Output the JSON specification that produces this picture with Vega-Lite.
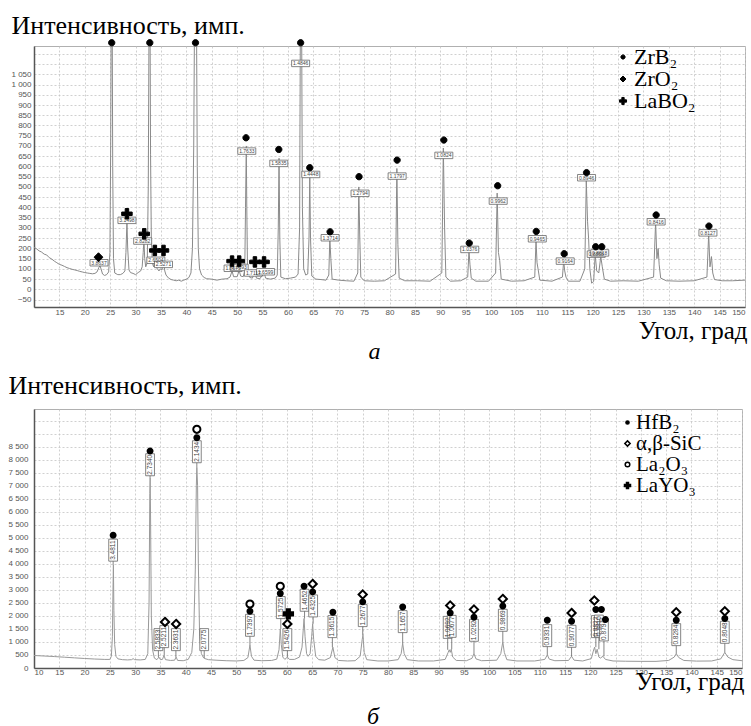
{
"$schema": "https://vega.github.io/schema/vega-lite/v6.json",
"padding": {"left": 7, "top": 11, "right": 2, "bottom": 0},
"background": "white",
"spacing": 6,
"align": "none",
"config": {
  "view": {"stroke": "#b0b0b0", "strokeWidth": 1},
  "axis": {"gridColor": "#c4c4c4", "gridDash": [2, 2], "gridWidth": 0.8, "labelFont": "Liberation Sans", "labelFontSize": 8, "labelColor": "#555", "ticks": false, "domainColor": "#555", "domainWidth": 1.5, "titleFont": "Liberation Serif, Times New Roman, DejaVu Serif, serif", "titleFontWeight": "normal", "titleColor": "black", "labelPadding": 3},
  "title": {"font": "Liberation Serif, Times New Roman, DejaVu Serif, serif", "fontWeight": "normal", "color": "black"},
  "legend": {"labelFont": "Liberation Serif, Times New Roman, DejaVu Serif, serif", "labelColor": "black", "title": null, "orient": "none", "padding": 0, "symbolStrokeColor": "black", "symbolOpacity": 1}
},
"resolve": {"scale": {"x": "independent", "y": "independent", "shape": "independent", "fill": "independent", "stroke": "independent"}, "legend": {"shape": "independent", "fill": "independent", "stroke": "independent"}},
"datasets": {
  "specA": [
    {"t":10,"v":205},{"t":10.5,"v":198},{"t":11,"v":188},{"t":11.5,"v":182},{"t":12,"v":172},{"t":12.5,"v":168},{"t":13,"v":155},{"t":13.5,"v":148},{"t":14,"v":138},{"t":14.5,"v":130},{"t":15,"v":122},{"t":15.5,"v":118},{"t":16,"v":112},{"t":16.5,"v":106},{"t":17,"v":102},{"t":17.5,"v":98},{"t":18,"v":95},{"t":18.5,"v":92},{"t":19,"v":88},{"t":19.5,"v":85},{"t":20,"v":82},{"t":20.5,"v":80},{"t":21,"v":78},{"t":21.5,"v":76},{"t":22,"v":78},{"t":22.4,"v":85},{"t":22.8,"v":108},{"t":23.0,"v":115},{"t":23.2,"v":100},{"t":23.5,"v":75},{"t":23.9,"v":68},{"t":24.3,"v":72},{"t":24.7,"v":85},{"t":24.95,"v":180},{"t":25.1,"v":700},{"t":25.2,"v":1300},{"t":25.4,"v":1300},{"t":25.5,"v":600},{"t":25.65,"v":150},{"t":25.9,"v":80},{"t":26.5,"v":72},{"t":27.0,"v":72},{"t":27.5,"v":78},{"t":27.9,"v":90},{"t":28.1,"v":180},{"t":28.3,"v":330},{"t":28.45,"v":200},{"t":28.7,"v":95},{"t":29.0,"v":82},{"t":29.5,"v":78},{"t":30.0,"v":72},{"t":30.5,"v":82},{"t":31.0,"v":90},{"t":31.3,"v":110},{"t":31.5,"v":180},{"t":31.65,"v":240},{"t":31.8,"v":150},{"t":32.0,"v":110},{"t":32.3,"v":130},{"t":32.5,"v":500},{"t":32.65,"v":1300},{"t":32.85,"v":1300},{"t":32.95,"v":660},{"t":33.1,"v":250},{"t":33.3,"v":130},{"t":33.55,"v":110},{"t":33.8,"v":150},{"t":34.0,"v":110},{"t":34.3,"v":100},{"t":34.6,"v":90},{"t":34.9,"v":100},{"t":35.2,"v":95},{"t":35.5,"v":140},{"t":35.75,"v":90},{"t":36.0,"v":70},{"t":36.5,"v":55},{"t":37,"v":48},{"t":37.5,"v":45},{"t":38,"v":42},{"t":38.5,"v":45},{"t":39,"v":40},{"t":39.5,"v":45},{"t":40,"v":50},{"t":40.5,"v":58},{"t":40.9,"v":80},{"t":41.2,"v":200},{"t":41.45,"v":700},{"t":41.6,"v":1300},{"t":42.0,"v":1300},{"t":42.15,"v":600},{"t":42.35,"v":200},{"t":42.6,"v":100},{"t":43,"v":70},{"t":43.5,"v":58},{"t":44,"v":52},{"t":45,"v":50},{"t":46,"v":45},{"t":47,"v":50},{"t":48,"v":52},{"t":48.6,"v":60},{"t":49.0,"v":90},{"t":49.3,"v":62},{"t":50.0,"v":62},{"t":50.4,"v":92},{"t":50.7,"v":65},{"t":51.2,"v":62},{"t":51.5,"v":90},{"t":51.65,"v":400},{"t":51.8,"v":700},{"t":51.9,"v":400},{"t":52.05,"v":80},{"t":52.5,"v":58},{"t":53.0,"v":55},{"t":53.5,"v":85},{"t":53.8,"v":55},{"t":54.5,"v":52},{"t":55.3,"v":85},{"t":55.6,"v":55},{"t":56.5,"v":50},{"t":57.5,"v":55},{"t":57.9,"v":70},{"t":58.1,"v":300},{"t":58.25,"v":640},{"t":58.4,"v":250},{"t":58.6,"v":60},{"t":59.5,"v":52},{"t":60.5,"v":55},{"t":61.5,"v":60},{"t":62.0,"v":75},{"t":62.3,"v":300},{"t":62.45,"v":1300},{"t":62.7,"v":1300},{"t":62.85,"v":400},{"t":63.1,"v":100},{"t":63.5,"v":70},{"t":63.9,"v":75},{"t":64.15,"v":250},{"t":64.3,"v":560},{"t":64.45,"v":250},{"t":64.7,"v":65},{"t":65.5,"v":50},{"t":66.5,"v":48},{"t":67.5,"v":45},{"t":68.05,"v":70},{"t":68.25,"v":250},{"t":68.45,"v":150},{"t":68.7,"v":50},{"t":70,"v":45},{"t":71.5,"v":42},{"t":73,"v":40},{"t":73.75,"v":80},{"t":73.95,"v":500},{"t":74.15,"v":250},{"t":74.35,"v":60},{"t":75,"v":42},{"t":77,"v":40},{"t":79,"v":42},{"t":81.2,"v":75},{"t":81.45,"v":590},{"t":81.65,"v":220},{"t":81.9,"v":55},{"t":83,"v":42},{"t":85.5,"v":42},{"t":88,"v":40},{"t":90.3,"v":80},{"t":90.6,"v":690},{"t":90.85,"v":300},{"t":91.1,"v":60},{"t":92,"v":40},{"t":94,"v":42},{"t":95.4,"v":60},{"t":95.65,"v":190},{"t":95.85,"v":120},{"t":96.1,"v":55},{"t":97,"v":40},{"t":99.5,"v":40},{"t":100.9,"v":80},{"t":101.2,"v":470},{"t":101.45,"v":180},{"t":101.7,"v":140},{"t":102.0,"v":50},{"t":104,"v":40},{"t":106.5,"v":42},{"t":108.6,"v":60},{"t":108.85,"v":240},{"t":109.05,"v":130},{"t":109.25,"v":100},{"t":109.6,"v":45},{"t":112,"v":40},{"t":114.05,"v":60},{"t":114.3,"v":140},{"t":114.5,"v":90},{"t":114.75,"v":60},{"t":115.2,"v":40},{"t":117.5,"v":40},{"t":118.45,"v":100},{"t":118.75,"v":530},{"t":119.0,"v":330},{"t":119.2,"v":250},{"t":119.45,"v":100},{"t":119.8,"v":30},{"t":120.2,"v":40},{"t":120.5,"v":170},{"t":120.8,"v":90},{"t":121.2,"v":80},{"t":121.6,"v":160},{"t":121.9,"v":110},{"t":122.3,"v":50},{"t":123.5,"v":40},{"t":126,"v":42},{"t":129,"v":40},{"t":132.0,"v":60},{"t":132.4,"v":330},{"t":132.65,"v":150},{"t":132.9,"v":200},{"t":133.1,"v":120},{"t":133.4,"v":55},{"t":134.5,"v":42},{"t":137,"v":40},{"t":140,"v":42},{"t":142.5,"v":60},{"t":142.85,"v":270},{"t":143.1,"v":110},{"t":143.4,"v":160},{"t":143.65,"v":80},{"t":144.0,"v":48},{"t":145.5,"v":42},{"t":147.5,"v":42},{"t":150,"v":45}
  ],
  "mkA": [
    {"t":22.7,"v":157,"ph":"ZrO₂"},
    {"t":25.3,"v":1204,"ph":"ZrB₂"},{"t":32.8,"v":1204,"ph":"ZrB₂"},{"t":41.8,"v":1204,"ph":"ZrB₂"},{"t":51.75,"v":740,"ph":"ZrB₂"},{"t":58.2,"v":683,"ph":"ZrB₂"},{"t":62.5,"v":1204,"ph":"ZrB₂"},{"t":64.3,"v":594,"ph":"ZrB₂"},{"t":68.3,"v":281,"ph":"ZrB₂"},{"t":74.0,"v":550,"ph":"ZrB₂"},{"t":81.5,"v":631,"ph":"ZrB₂"},{"t":90.7,"v":729,"ph":"ZrB₂"},{"t":95.7,"v":226,"ph":"ZrB₂"},{"t":101.3,"v":506,"ph":"ZrB₂"},{"t":108.9,"v":283,"ph":"ZrB₂"},{"t":114.4,"v":174,"ph":"ZrB₂"},{"t":118.8,"v":570,"ph":"ZrB₂"},{"t":120.6,"v":208,"ph":"ZrB₂"},{"t":121.8,"v":208,"ph":"ZrB₂"},{"t":132.5,"v":363,"ph":"ZrB₂"},{"t":142.9,"v":309,"ph":"ZrB₂"},
    {"t":28.3,"v":369,"ph":"LaBO₂"},{"t":31.7,"v":271,"ph":"LaBO₂"},{"t":33.8,"v":190,"ph":"LaBO₂"},{"t":35.5,"v":190,"ph":"LaBO₂"},{"t":49.0,"v":138,"ph":"LaBO₂"},{"t":50.4,"v":138,"ph":"LaBO₂"},{"t":53.5,"v":134,"ph":"LaBO₂"},{"t":55.3,"v":134,"ph":"LaBO₂"}
  ],
  "lbA": [
    {"t":22.8,"v":130,"d":"3.8637"},{"t":28.3,"v":337,"d":"3.1498"},{"t":31.4,"v":236,"d":"2.8282"},{"t":34.0,"v":142,"d":"2.6504"},{"t":35.5,"v":122,"d":"2.5271"},{"t":49.2,"v":103,"d":"1.8575"},{"t":50.4,"v":107,"d":"1.8093"},{"t":51.9,"v":675,"d":"1.7633"},{"t":53.2,"v":80,"d":"1.7117"},{"t":55.6,"v":86,"d":"1.6599"},{"t":58.2,"v":615,"d":"1.5835"},{"t":62.5,"v":1103,"d":"1.4846"},{"t":64.5,"v":561,"d":"1.4448"},{"t":68.3,"v":252,"d":"1.3714"},{"t":74.2,"v":469,"d":"1.2794"},{"t":81.5,"v":553,"d":"1.1797"},{"t":90.7,"v":654,"d":"1.0824"},{"t":95.8,"v":195,"d":"1.0376"},{"t":101.4,"v":431,"d":"0.9962"},{"t":109.1,"v":247,"d":"0.9465"},{"t":114.6,"v":138,"d":"0.9164"},{"t":118.8,"v":545,"d":"0.8946"},{"t":120.7,"v":172,"d":"0.8868"},{"t":121.4,"v":178,"d":"0.8818"},{"t":132.5,"v":330,"d":"0.8416"},{"t":142.7,"v":276,"d":"0.8127"}
  ],
  "specB": [
    {"t":10,"v":480},{"t":12,"v":460},{"t":14,"v":440},{"t":16,"v":415},{"t":18,"v":390},{"t":20,"v":365},{"t":22,"v":345},{"t":24,"v":330},{"t":25.0,"v":330},{"t":25.3,"v":450},{"t":25.5,"v":1200},{"t":25.62,"v":3000},{"t":25.7,"v":3950},{"t":25.8,"v":2200},{"t":25.95,"v":900},{"t":26.2,"v":450},{"t":26.6,"v":350},{"t":27.5,"v":320},{"t":28.5,"v":310},{"t":29.3,"v":320},{"t":29.6,"v":360},{"t":29.9,"v":320},{"t":31,"v":310},{"t":32,"v":330},{"t":32.5,"v":550},{"t":32.75,"v":2500},{"t":32.9,"v":6700},{"t":32.97,"v":7300},{"t":33.05,"v":5800},{"t":33.2,"v":2000},{"t":33.45,"v":700},{"t":33.8,"v":380},{"t":34.3,"v":320},{"t":34.7,"v":420},{"t":35.0,"v":320},{"t":35.4,"v":330},{"t":35.7,"v":480},{"t":36.0,"v":320},{"t":37,"v":290},{"t":37.8,"v":300},{"t":38.1,"v":420},{"t":38.4,"v":290},{"t":39.5,"v":280},{"t":40.5,"v":330},{"t":41.2,"v":600},{"t":41.6,"v":1500},{"t":41.9,"v":3800},{"t":42.1,"v":7000},{"t":42.2,"v":7700},{"t":42.35,"v":7000},{"t":42.5,"v":4000},{"t":42.75,"v":1200},{"t":43.1,"v":550},{"t":43.5,"v":400},{"t":43.8,"v":360},{"t":44.5,"v":320},{"t":46,"v":300},{"t":48,"v":280},{"t":50,"v":270},{"t":51.5,"v":290},{"t":52.3,"v":400},{"t":52.7,"v":880},{"t":53.0,"v":450},{"t":53.5,"v":300},{"t":55,"v":280},{"t":57,"v":290},{"t":58.0,"v":340},{"t":58.45,"v":700},{"t":58.7,"v":1500},{"t":58.9,"v":900},{"t":59.2,"v":420},{"t":59.6,"v":330},{"t":60.1,"v":420},{"t":60.5,"v":330},{"t":61.5,"v":330},{"t":62.5,"v":420},{"t":63.0,"v":800},{"t":63.25,"v":1500},{"t":63.4,"v":1900},{"t":63.6,"v":1200},{"t":63.9,"v":550},{"t":64.2,"v":450},{"t":64.6,"v":550},{"t":64.9,"v":1200},{"t":65.1,"v":1700},{"t":65.3,"v":1100},{"t":65.7,"v":450},{"t":66.3,"v":320},{"t":67.5,"v":300},{"t":68.6,"v":400},{"t":69.1,"v":800},{"t":69.5,"v":400},{"t":70.2,"v":290},{"t":72,"v":270},{"t":73.5,"v":280},{"t":74.5,"v":450},{"t":74.9,"v":1100},{"t":75.05,"v":1250},{"t":75.3,"v":600},{"t":75.8,"v":320},{"t":78,"v":270},{"t":80,"v":270},{"t":82.0,"v":320},{"t":82.6,"v":550},{"t":82.9,"v":950},{"t":83.2,"v":550},{"t":83.8,"v":320},{"t":86,"v":270},{"t":89,"v":270},{"t":91.3,"v":330},{"t":91.9,"v":600},{"t":92.1,"v":700},{"t":92.3,"v":600},{"t":92.5,"v":720},{"t":92.8,"v":420},{"t":93.5,"v":290},{"t":95.5,"v":280},{"t":96.6,"v":370},{"t":97.0,"v":550},{"t":97.4,"v":350},{"t":98.5,"v":280},{"t":101.5,"v":300},{"t":102.3,"v":550},{"t":102.7,"v":1000},{"t":103.0,"v":600},{"t":103.5,"v":320},{"t":105.5,"v":270},{"t":109,"v":270},{"t":111.0,"v":330},{"t":111.5,"v":500},{"t":111.9,"v":340},{"t":113,"v":280},{"t":115.7,"v":290},{"t":116.3,"v":450},{"t":116.8,"v":300},{"t":118.5,"v":270},{"t":120.2,"v":360},{"t":120.6,"v":650},{"t":120.85,"v":800},{"t":121.1,"v":550},{"t":121.35,"v":720},{"t":121.7,"v":420},{"t":122.0,"v":380},{"t":122.5,"v":450},{"t":123.0,"v":330},{"t":124.5,"v":270},{"t":127,"v":260},{"t":130,"v":255},{"t":133,"v":255},{"t":135.5,"v":290},{"t":136.6,"v":420},{"t":137.0,"v":550},{"t":137.5,"v":400},{"t":138.5,"v":290},{"t":141,"v":265},{"t":144,"v":270},{"t":145.8,"v":350},{"t":146.6,"v":600},{"t":147.2,"v":420},{"t":148.2,"v":320},{"t":150,"v":280}
  ],
  "mkB": [
    {"t":25.65,"v":5100,"ph":"HfB₂"},{"t":32.95,"v":8333,"ph":"HfB₂"},{"t":42.2,"v":8846,"ph":"HfB₂"},{"t":52.7,"v":2180,"ph":"HfB₂"},{"t":58.7,"v":2860,"ph":"HfB₂"},{"t":63.4,"v":3142,"ph":"HfB₂"},{"t":65.1,"v":2923,"ph":"HfB₂"},{"t":69.1,"v":2142,"ph":"HfB₂"},{"t":75.0,"v":2540,"ph":"HfB₂"},{"t":82.9,"v":2346,"ph":"HfB₂"},{"t":92.3,"v":2115,"ph":"HfB₂"},{"t":97.0,"v":1950,"ph":"HfB₂"},{"t":102.7,"v":2385,"ph":"HfB₂"},{"t":111.5,"v":1835,"ph":"HfB₂"},{"t":116.3,"v":1796,"ph":"HfB₂"},{"t":121.1,"v":2246,"ph":"HfB₂"},{"t":122.2,"v":2246,"ph":"HfB₂"},{"t":123.0,"v":1860,"ph":"HfB₂"},{"t":137.0,"v":1835,"ph":"HfB₂"},{"t":146.6,"v":1900,"ph":"HfB₂"},
    {"t":35.9,"v":1770,"ph":"α,β-SiC"},{"t":38.1,"v":1692,"ph":"α,β-SiC"},{"t":60.1,"v":1692,"ph":"α,β-SiC"},{"t":65.1,"v":3230,"ph":"α,β-SiC"},{"t":75.0,"v":2823,"ph":"α,β-SiC"},{"t":92.3,"v":2400,"ph":"α,β-SiC"},{"t":97.0,"v":2246,"ph":"α,β-SiC"},{"t":102.7,"v":2654,"ph":"α,β-SiC"},{"t":116.3,"v":2115,"ph":"α,β-SiC"},{"t":120.8,"v":2592,"ph":"α,β-SiC"},{"t":137.0,"v":2142,"ph":"α,β-SiC"},{"t":146.6,"v":2180,"ph":"α,β-SiC"},
    {"t":42.2,"v":9170,"ph":"La₂O₃"},{"t":52.7,"v":2460,"ph":"La₂O₃"},{"t":58.7,"v":3142,"ph":"La₂O₃"},
    {"t":60.3,"v":2080,"ph":"LaYO₃"}
  ],
  "lbB": [
    {"t":25.65,"v":4527,"p":3950,"d":"3.4811"},{"t":32.95,"v":7808,"p":7300,"d":"2.7340"},{"t":34.6,"v":1090,"p":420,"d":"2.5833"},{"t":35.75,"v":1205,"p":480,"d":"2.5211"},{"t":38.06,"v":1090,"p":420,"d":"2.3631"},{"t":42.2,"v":8308,"p":7700,"d":"2.1434"},{"t":43.66,"v":1090,"p":380,"d":"2.0775"},{"t":52.7,"v":1641,"p":880,"d":"1.7397"},{"t":58.8,"v":2321,"p":1500,"d":"1.5725"},{"t":60.1,"v":1090,"p":420,"d":"1.5426"},{"t":63.5,"v":2603,"p":1900,"d":"1.4652"},{"t":65.2,"v":2385,"p":1700,"d":"1.4325"},{"t":69.0,"v":1590,"p":800,"d":"1.3615"},{"t":75.0,"v":2013,"p":1250,"d":"1.2677"},{"t":82.9,"v":1782,"p":950,"d":"1.1657"},{"t":91.8,"v":1560,"p":700,"d":"1.0692"},{"t":92.6,"v":1600,"p":720,"d":"1.0677"},{"t":97.0,"v":1449,"p":550,"d":"1.0292"},{"t":102.7,"v":1833,"p":1000,"d":"0.9869"},{"t":111.5,"v":1244,"p":500,"d":"0.9331"},{"t":116.3,"v":1218,"p":450,"d":"0.9077"},{"t":121.1,"v":1590,"p":800,"d":"0.8822"},{"t":121.7,"v":1610,"p":720,"d":"0.8810"},{"t":122.7,"v":1462,"p":450,"d":"0.8794"},{"t":137.0,"v":1282,"p":550,"d":"0.8284"},{"t":146.6,"v":1372,"p":600,"d":"0.8048"}
  ]
},
"vconcat": [
  {
    "width": 711, "height": 261,
    "title": {"text": "а", "orient": "bottom", "anchor": "middle", "fontStyle": "italic", "fontSize": 24, "offset": -3, "dx": -15},
    "encoding": {
      "x": {"field": "t", "type": "quantitative", "scale": {"domain": [10, 150], "nice": false, "zero": false},
        "axis": {"values": [10,15,20,25,30,35,40,45,50,55,60,65,70,75,80,85,90,95,100,105,110,115,120,125,130,135,140,145,150], "labelExpr": "datum.value == 10 ? '' : datum.label", "labelPadding": 1, "title": "Угол, град", "titleFont": "Liberation Serif, Times New Roman, DejaVu Serif, serif", "titleFontWeight": "normal", "titleFontSize": 25, "titleAnchor": "end", "titleAlign": "right", "titleBaseline": "alphabetic", "titleX": 713, "titleY": 31}},
      "y": {"field": "v", "type": "quantitative", "scale": {"domain": [-86, 1188], "nice": false, "zero": false},
        "axis": {"values": [-50,0,50,100,150,200,250,300,350,400,450,500,550,600,650,700,750,800,850,900,950,1000,1050,1100,1150], "labelExpr": "datum.value > 1050 ? '' : replace(format(datum.value, ','), ',', ' ')", "labelPadding": 3, "title": "Интенсивность, имп.", "titleFont": "Liberation Serif, Times New Roman, DejaVu Serif, serif", "titleFontWeight": "normal", "titleFontSize": 26, "titleAngle": 0, "titleAlign": "left", "titleBaseline": "alphabetic", "titleX": -23, "titleY": -13}}
    },
    "layer": [
      {"data": {"name": "specA"}, "mark": {"type": "line", "color": "#8a8a8a", "strokeWidth": 1, "clip": true}},
      {"data": {"name": "lbA"}, "mark": {"type": "point", "shape": "M-1,-0.36H1V0.36H-1Z", "size": 324, "filled": true, "fill": "white", "stroke": "#666", "strokeWidth": 0.8, "opacity": 1}},
      {"data": {"name": "lbA"}, "mark": {"type": "text", "fontSize": 5, "font": "Liberation Sans", "color": "#444", "align": "center", "baseline": "middle"}, "encoding": {"text": {"field": "d"}}},
      {"data": {"name": "mkA"}, "mark": {"type": "point", "filled": true, "strokeWidth": 1, "size": 110, "opacity": 1, "clip": false},
        "encoding": {
          "shape": {"field": "ph", "type": "nominal", "scale": {"domain": ["ZrB₂", "ZrO₂", "LaBO₂"], "range": ["M-0.6,0A0.6,0.6 0 1,0 0.6,0A0.6,0.6 0 1,0 -0.6,0Z", "M0,-0.85L0.85,0L0,0.85L-0.85,0Z", "M-0.33,-1H0.33V-0.33H1V0.33H0.33V1H-0.33V0.33H-1V-0.33H-0.33Z"]},
            "legend": {"legendX": 578, "legendY": 0, "labelFontSize": 22, "symbolSize": 50, "symbolStrokeWidth": 1, "rowPadding": 0, "labelOffset": 0}},
          "fill": {"field": "ph", "type": "nominal", "scale": {"domain": ["ZrB₂", "ZrO₂", "LaBO₂"], "range": ["black", "black", "black"]},
            "legend": {"legendX": 578, "legendY": 0, "labelFontSize": 22, "symbolSize": 50, "symbolStrokeWidth": 1, "rowPadding": 0, "labelOffset": 0}},
          "stroke": {"field": "ph", "type": "nominal", "scale": {"domain": ["ZrB₂", "ZrO₂", "LaBO₂"], "range": ["black", "black", "black"]},
            "legend": {"legendX": 578, "legendY": 0, "labelFontSize": 22, "symbolSize": 50, "symbolStrokeWidth": 1, "rowPadding": 0, "labelOffset": 0}}
        }}
    ]
  },
  {
    "width": 708, "height": 259,
    "title": {"text": "б", "orient": "bottom", "anchor": "middle", "fontStyle": "italic", "fontSize": 24, "offset": 11, "dx": -15},
    "encoding": {
      "x": {"field": "t", "type": "quantitative", "scale": {"domain": [10, 150], "nice": false, "zero": false},
        "axis": {"values": [10,15,20,25,30,35,40,45,50,55,60,65,70,75,80,85,90,95,100,105,110,115,120,125,130,135,140,145,150], "labelPadding": 0, "title": "Угол, град", "titleFont": "Liberation Serif, Times New Roman, DejaVu Serif, serif", "titleFontWeight": "normal", "titleFontSize": 25, "titleAnchor": "end", "titleAlign": "right", "titleBaseline": "alphabetic", "titleX": 710, "titleY": 21}},
      "y": {"field": "v", "type": "quantitative", "scale": {"domain": [0, 9950], "nice": false, "zero": false},
        "axis": {"values": [0,500,1000,1500,2000,2500,3000,3500,4000,4500,5000,5500,6000,6500,7000,7500,8000,8500,9000,9500], "labelExpr": "datum.value > 8500 ? '' : replace(format(datum.value, ','), ',', ' ')", "labelPadding": 6, "title": "Интенсивность, имп.", "titleFont": "Liberation Serif, Times New Roman, DejaVu Serif, serif", "titleFontWeight": "normal", "titleFontSize": 26, "titleAngle": 0, "titleAlign": "left", "titleBaseline": "alphabetic", "titleX": -26, "titleY": -16}}
    },
    "layer": [
      {"data": {"name": "specB"}, "mark": {"type": "line", "color": "#999", "strokeWidth": 1, "clip": true}},
      {"data": {"name": "lbB"}, "mark": {"type": "rule", "color": "#666", "strokeWidth": 0.8}, "encoding": {"y": {"field": "p", "type": "quantitative"}, "y2": {"field": "v"}}},
      {"data": {"name": "lbB"}, "mark": {"type": "point", "shape": "M-0.4,-1H0.4V1H-0.4Z", "size": 484, "filled": true, "fill": "white", "stroke": "#666", "strokeWidth": 0.8, "opacity": 1}},
      {"data": {"name": "lbB"}, "mark": {"type": "text", "fontSize": 6.5, "font": "Liberation Sans", "color": "#444", "align": "center", "baseline": "middle", "angle": 270}, "encoding": {"text": {"field": "d"}}},
      {"data": {"name": "mkB"}, "mark": {"type": "point", "filled": true, "strokeWidth": 2, "size": 121, "opacity": 1, "clip": false},
        "encoding": {
          "shape": {"field": "ph", "type": "nominal", "scale": {"domain": ["HfB₂", "α,β-SiC", "La₂O₃", "LaYO₃"], "range": ["M-0.45,0A0.45,0.45 0 1,0 0.45,0A0.45,0.45 0 1,0 -0.45,0Z", "M0,-0.75L0.75,0L0,0.75L-0.75,0Z", "M-0.65,0A0.65,0.65 0 1,0 0.65,0A0.65,0.65 0 1,0 -0.65,0Z", "M-0.28,-0.85H0.28V-0.28H0.85V0.28H0.28V0.85H-0.28V0.28H-0.85V-0.28H-0.28Z"]},
            "legend": {"legendX": 583, "legendY": 3, "labelFontSize": 21, "symbolSize": 50, "symbolStrokeWidth": 1.5, "rowPadding": -3, "labelOffset": -2}},
          "fill": {"field": "ph", "type": "nominal", "scale": {"domain": ["HfB₂", "α,β-SiC", "La₂O₃", "LaYO₃"], "range": ["black", "white", "white", "black"]},
            "legend": {"legendX": 583, "legendY": 3, "labelFontSize": 21, "symbolSize": 50, "symbolStrokeWidth": 1.5, "rowPadding": -3, "labelOffset": -2}},
          "stroke": {"field": "ph", "type": "nominal", "scale": {"domain": ["HfB₂", "α,β-SiC", "La₂O₃", "LaYO₃"], "range": ["black", "black", "black", "black"]},
            "legend": {"legendX": 583, "legendY": 3, "labelFontSize": 21, "symbolSize": 50, "symbolStrokeWidth": 1.5, "rowPadding": -3, "labelOffset": -2}}
        }}
    ]
  }
]
}
